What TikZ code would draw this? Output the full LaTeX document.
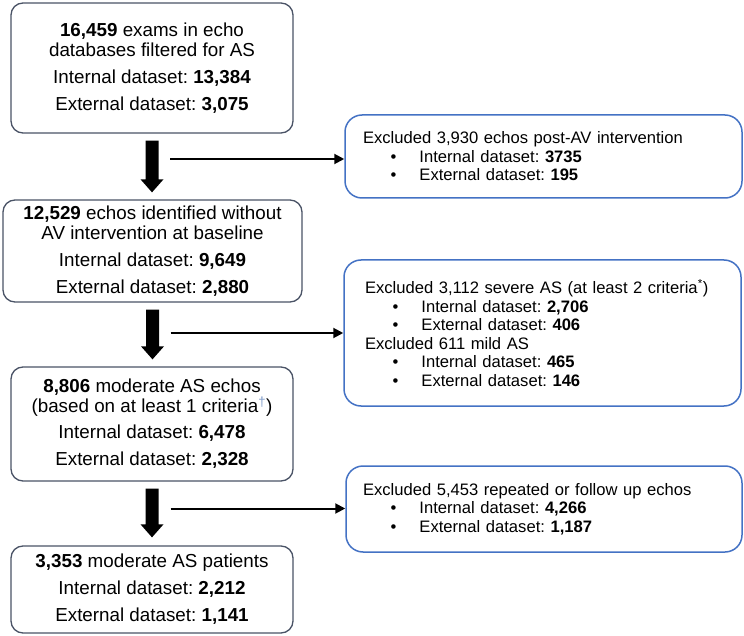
\documentclass[tikz,border=0pt]{standalone}
\usepackage{fontspec}
\setmainfont{Liberation Sans}
\usetikzlibrary{arrows.meta,calc}
\frenchspacing
\definecolor{leftcol}{HTML}{4A5366}
\definecolor{rightcol}{HTML}{4472C4}
\definecolor{dagcol}{HTML}{7F9BC8}
\tikzset{
  mainbox/.style={draw=leftcol, line width=1.3pt, rounded corners=12pt, align=center, inner sep=0pt,
    font=\fontsize{18.8pt}{20pt}\selectfont},
  sidebox/.style={draw=rightcol, line width=1.5pt, rounded corners=17pt, align=left, inner sep=0pt,
    font=\fontsize{16.6pt}{18.5pt}\selectfont},
  thinarrow/.style={line width=2pt, -{Triangle[length=10pt,width=10pt]}},
}
\newcommand{\blt}{\hspace*{27.5pt}\makebox[29pt][l]{•}}
\newcommand{\fatarrow}[2]{\fill let \p1=(#1), \p2=(#2) in
  (\x1-6.5pt,\y1) -- (\x1+6.5pt,\y1) -- (\x1+6.5pt,\y2+13pt) -- (\x1+11.5pt,\y2+13pt)
  -- (\x1,\y2) -- (\x1-11.5pt,\y2+13pt) -- (\x1-6.5pt,\y2+13pt) -- cycle;}
\begin{document}
\begin{tikzpicture}[x=1pt,y=-1pt]
\useasboundingbox (0,0) rectangle (744,636);
% main column
\node[mainbox, minimum width=282pt, minimum height=130pt] (b1) at (152,68)
  {\textbf{16,459} exams in echo\\databases filtered for AS\\[7pt]Internal dataset: \textbf{13,384}\\[7pt]External dataset: \textbf{3,075}};
\node[mainbox, minimum width=299pt, minimum height=102pt] (b2) at (152.5,251)
  {\textbf{12,529} echos identified without\\AV intervention at baseline\\[7pt]Internal dataset: \textbf{9,649}\\[7pt]External dataset: \textbf{2,880}};
\node[mainbox, minimum width=282pt, minimum height=114pt] (b3) at (152,424)
  {\textbf{8,806} moderate AS echos\\(based on at least 1 criteria\textsuperscript{\color{dagcol}†})\\[6pt]Internal dataset: \textbf{6,478}\\[7pt]External dataset: \textbf{2,328}};
\node[mainbox, minimum width=282pt, minimum height=87pt] (b4) at (152,589.5)
  {\textbf{3,353} moderate AS patients\\[7pt]Internal dataset: \textbf{2,212}\\[7pt]External dataset: \textbf{1,141}};
% exclusion boxes
\node[sidebox, minimum width=397pt, minimum height=83pt, text width=361pt] (r1) at (543.5,156.5)
  {Excluded 3,930 echos post-AV intervention\\\blt Internal dataset: \textbf{3735}\\\blt External dataset: \textbf{195}};
\node[sidebox, minimum width=397pt, minimum height=146pt, text width=355pt] (r2) at (542.5,333)
  {Excluded 3,112 severe AS (at least 2 criteria\textsuperscript{*})\\\blt Internal dataset: \textbf{2,706}\\\blt External dataset: \textbf{406}\\Excluded 611 mild AS\\\blt Internal dataset: \textbf{465}\\\blt External dataset: \textbf{146}};
\node[sidebox, minimum width=396pt, minimum height=86pt, text width=362pt] (r3) at (544,509)
  {Excluded 5,453 repeated or follow up echos\\\blt Internal dataset: \textbf{4,266}\\\blt External dataset: \textbf{1,187}};
% fat arrows
\fatarrow{[yshift=-7pt]b1.south}{[yshift=7pt]b2.north}
\fatarrow{[yshift=-7pt]b2.south}{[yshift=7pt]b3.north}
\fatarrow{[yshift=-7pt]b3.south}{[yshift=8pt]b4.north}
% side arrows
\coordinate (h1) at (170,159);
\coordinate (h2) at (170.5,333);
\coordinate (h3) at (170.5,508.5);
\draw[thinarrow] (h1) -- (h1 -| r1.west);
\draw[thinarrow] (h2) -- (h2 -| r2.west);
\draw[thinarrow] (h3) -- (h3 -| r3.west);
\end{tikzpicture}
\end{document}
